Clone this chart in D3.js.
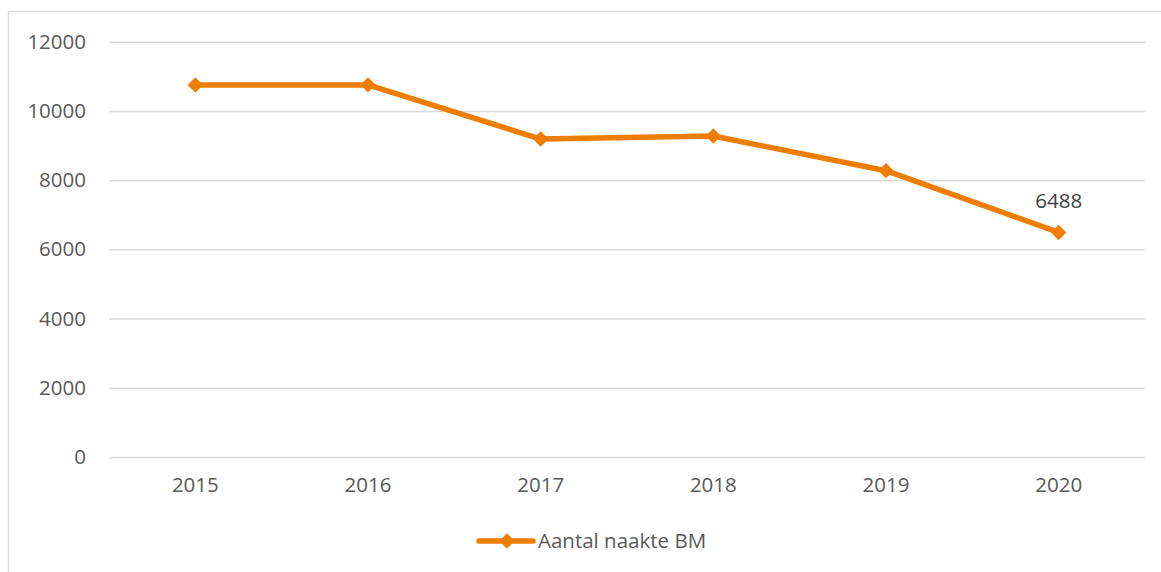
<!DOCTYPE html>
<html>
<head>
<meta charset="utf-8">
<script src="https://cdn.jsdelivr.net/npm/d3@7"></script>
<style>
  html, body { margin: 0; padding: 0; background: #fff; }
  svg { display: block; }
  text { font-family: "Open Sans", sans-serif; }
</style>
</head>
<body>
<svg id="chart" width="1161" height="572"></svg>
<script>
const categories = ["2015", "2016", "2017", "2018", "2019", "2020"];
const values = [10750, 10752, 9188, 9275, 8273, 6488];
const yTicks = [0, 2000, 4000, 6000, 8000, 10000, 12000];
const seriesName = "Aantal naakte BM";
const labelledIndex = [5];

const W = 1161, H = 572;
const plot = { left: 109, right: 1145, top: 41.7, bottom: 457 };
const color = "#EF7D00";
const textColor = "#595959";
const fontSize = 20.5;

const svg = d3.select("#chart");

// outer border (clipped at right/bottom like the reference)
svg.append("rect")
  .attr("x", 8.5).attr("y", 11.5)
  .attr("width", 1300).attr("height", 700)
  .attr("fill", "none").attr("stroke", "#d9d9d9").attr("stroke-width", 1.5);

const x = d3.scaleBand().domain(categories).range([plot.left, plot.right]);
const y = d3.scaleLinear().domain([0, 12000]).range([plot.bottom, plot.top]);

// gridlines + y labels via axis
const yAxis = d3.axisLeft(y).tickValues(yTicks).tickFormat(d3.format("d"))
  .tickSize(-(plot.right - plot.left)).tickPadding(23);
const gy = svg.append("g").attr("transform", `translate(${plot.left},0)`).call(yAxis);
gy.select(".domain").remove();
gy.selectAll(".tick line").attr("stroke", "#d9d9d9").attr("stroke-width", 1.5);
gy.selectAll(".tick text")
  .attr("fill", textColor).style("font-size", fontSize + "px")
  .style("font-family", "'Open Sans', sans-serif");

// x labels
const xAxis = d3.axisBottom(x).tickSize(0).tickPadding(20);
const gx = svg.append("g").attr("transform", `translate(0,${plot.bottom})`).call(xAxis);
gx.select(".domain").remove();
gx.selectAll(".tick text")
  .attr("fill", textColor).style("font-size", fontSize + "px")
  .style("font-family", "'Open Sans', sans-serif");

const cx = d => x(d) + x.bandwidth() / 2;
const pts = categories.map((c, i) => ({ c, v: values[i] }));

const line = d3.line().x(d => cx(d.c)).y(d => y(d.v));
svg.append("path").datum(pts)
  .attr("d", line).attr("fill", "none")
  .attr("stroke", color).attr("stroke-width", 5.5)
  .attr("stroke-linejoin", "round").attr("stroke-linecap", "round");

const diamond = d3.symbol().type(d3.symbolDiamond2).size(150);
svg.selectAll(".marker").data(pts).join("path")
  .attr("class", "marker")
  .attr("transform", d => `translate(${cx(d.c)},${y(d.v)})`)
  .attr("d", diamond).attr("fill", color);

// data label
svg.selectAll(".dlabel").data(labelledIndex.map(i => pts[i])).join("text")
  .attr("class", "dlabel")
  .attr("x", d => cx(d.c)).attr("y", d => y(d.v) - 32)
  .attr("dy", "0.35em")
  .attr("text-anchor", "middle").attr("fill", "#404040")
  .style("font-size", fontSize + "px")
  .text(d => d.v);

// legend
const lg = svg.append("g").attr("transform", "translate(0,541)");
lg.append("line").attr("x1", 479).attr("x2", 533).attr("y1", 0).attr("y2", 0)
  .attr("stroke", color).attr("stroke-width", 5.5).attr("stroke-linecap", "round");
lg.append("path").attr("transform", "translate(507,0)").attr("d", diamond).attr("fill", color);
lg.append("text").attr("x", 538).attr("y", 0).attr("dy", "0.35em")
  .attr("fill", textColor).style("font-size", fontSize + "px").text(seriesName);
</script>
</body>
</html>
